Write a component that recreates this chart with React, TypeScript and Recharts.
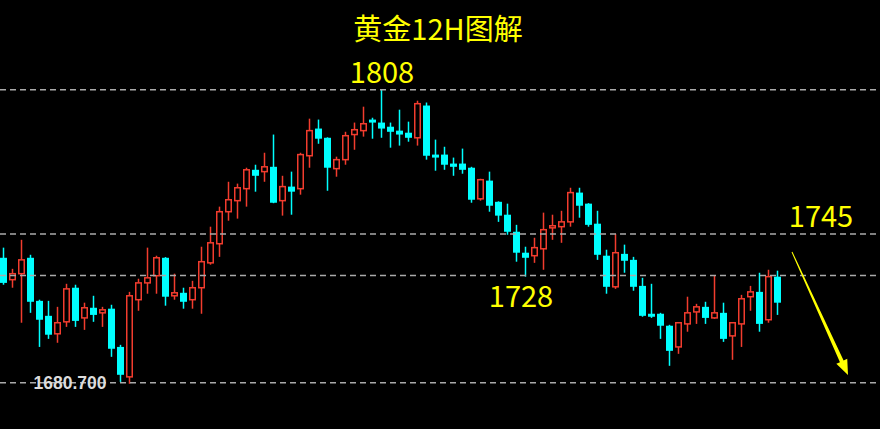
import { ComposedChart, Bar, XAxis, YAxis, ReferenceLine } from 'recharts'

// ── Data (12H gold candles) ─────────────────────────────────────────────────

const OPEN = [
  1735.0, 1725.5, 1728.1, 1735.0, 1716.3, 1709.8, 1702.0, 1707.2, 1722.0, 1708.9,
  1713.3, 1711.1, 1712.9, 1696.3, 1683.3, 1716.8, 1724.1, 1727.2, 1735.0, 1718.5,
  1719.8, 1716.8, 1722.0, 1732.8, 1741.1, 1755.0, 1759.8, 1765.0, 1773.2, 1772.4,
  1774.5, 1759.8, 1765.9, 1765.0, 1779.3, 1791.1, 1787.1, 1773.7, 1777.6, 1788.5,
  1790.2, 1795.0, 1793.7, 1791.9, 1790.2, 1789.3, 1787.1, 1801.1, 1779.8, 1779.8,
  1775.9, 1775.9, 1774.1, 1760.6, 1768.5, 1759.3, 1753.7, 1746.3, 1737.2, 1735.9,
  1738.9, 1748.0, 1748.5, 1750.6, 1763.3, 1758.5, 1749.8, 1735.9, 1722.4, 1736.7,
  1734.1, 1722.8, 1710.7, 1710.7, 1705.5, 1696.3, 1706.3, 1711.5, 1713.7, 1708.9,
  1711.1, 1701.1, 1706.3, 1718.1, 1720.2, 1708.1, 1726.8,
]

const HIGH = [
  1739.4, 1730.2, 1742.8, 1736.3, 1716.8, 1716.3, 1713.7, 1723.7, 1723.3, 1715.5,
  1718.5, 1713.7, 1714.6, 1697.2, 1720.2, 1725.9, 1739.4, 1735.9, 1735.3, 1728.1,
  1722.0, 1725.0, 1739.8, 1748.5, 1757.2, 1768.0, 1767.2, 1774.1, 1775.4, 1780.6,
  1788.5, 1770.6, 1772.4, 1780.6, 1795.4, 1795.0, 1787.3, 1778.9, 1789.7, 1793.7,
  1800.6, 1795.8, 1808.0, 1793.7, 1799.3, 1794.1, 1803.2, 1802.4, 1786.3, 1783.2,
  1778.5, 1782.4, 1774.5, 1769.3, 1772.4, 1759.5, 1758.5, 1749.3, 1739.8, 1743.7,
  1754.6, 1753.7, 1755.4, 1765.4, 1765.4, 1758.7, 1755.4, 1738.5, 1745.4, 1740.7,
  1735.4, 1726.3, 1723.7, 1711.1, 1705.9, 1706.8, 1718.1, 1715.0, 1715.9, 1727.2,
  1715.5, 1706.8, 1718.9, 1722.8, 1728.5, 1729.8, 1729.4,
]

const LOW = [
  1723.3, 1722.0, 1706.8, 1711.1, 1696.3, 1699.8, 1698.1, 1705.0, 1705.0, 1703.7,
  1707.2, 1705.0, 1692.0, 1681.1, 1680.3, 1712.0, 1719.4, 1719.4, 1714.2, 1716.8,
  1712.9, 1712.9, 1710.7, 1732.0, 1735.4, 1751.1, 1752.0, 1757.2, 1763.7, 1768.0,
  1758.7, 1753.3, 1753.7, 1762.4, 1774.1, 1784.5, 1764.1, 1770.2, 1775.4, 1781.9,
  1787.6, 1786.7, 1787.1, 1782.8, 1783.7, 1785.4, 1783.7, 1777.6, 1772.8, 1773.2,
  1770.6, 1771.5, 1758.9, 1759.8, 1755.0, 1750.6, 1745.0, 1733.3, 1726.8, 1732.8,
  1729.8, 1742.8, 1741.5, 1748.5, 1752.4, 1748.5, 1734.1, 1719.4, 1721.5, 1728.5,
  1720.7, 1709.4, 1708.9, 1699.8, 1688.1, 1693.3, 1702.9, 1706.3, 1706.3, 1708.5,
  1698.5, 1690.7, 1696.3, 1712.0, 1702.9, 1706.8, 1710.2,
]

const CLOSE = [
  1724.1, 1728.1, 1734.1, 1715.9, 1708.1, 1701.6, 1706.8, 1721.5, 1707.6, 1713.3,
  1710.2, 1712.4, 1695.5, 1684.2, 1718.5, 1724.1, 1726.3, 1735.0, 1718.1, 1719.8,
  1715.9, 1722.0, 1733.3, 1741.5, 1755.0, 1760.2, 1765.4, 1773.2, 1770.6, 1774.5,
  1758.9, 1765.9, 1763.7, 1779.8, 1790.2, 1786.7, 1774.1, 1777.6, 1788.0, 1790.6,
  1793.2, 1793.7, 1791.1, 1789.7, 1788.5, 1787.1, 1801.9, 1779.3, 1778.5, 1775.4,
  1774.5, 1773.2, 1760.2, 1768.9, 1757.6, 1753.3, 1746.3, 1737.2, 1735.0, 1739.4,
  1747.2, 1748.9, 1750.6, 1763.3, 1757.6, 1749.3, 1736.3, 1722.4, 1737.2, 1733.7,
  1722.4, 1709.8, 1709.4, 1705.5, 1694.6, 1706.8, 1711.1, 1713.7, 1708.9, 1711.1,
  1699.8, 1706.8, 1717.2, 1720.2, 1706.3, 1726.8, 1715.5,
]

// dashed price levels (drawn full width)
const LEVELS = [1808, 1745.3, 1727.3, 1680.7]

const TITLE = '黄金12H图解'
const LOW_LABEL = '1680.700'

const data = OPEN.map((open, i) => ({
  i,
  open,
  high: HIGH[i],
  low: LOW[i],
  close: CLOSE[i],
}))

// ── Helpers ──────────────────────────────────────────────────────────────────

const W = 880
const H = 429
const UP = '#f23c2e'
const DOWN = '#00ffff'
const YELLOW = '#ffff00'
const CJK = '"Noto Sans CJK SC", "Noto Sans", sans-serif'

function Candle(props: any) {
  const { x, y, width, height, payload } = props
  const { open, close, high, low } = payload
  const k = high === low ? 0 : height / (high - low)
  const cx = Math.round(x + width / 2) + 0.5
  const top = y + (high - Math.max(open, close)) * k
  const bottom = y + (high - Math.min(open, close)) * k
  const bodyH = Math.max(1.5, bottom - top)

  if (close >= open) {
    return (
      <g>
        <line x1={cx} x2={cx} y1={y} y2={top} stroke={UP} strokeWidth={1.5} />
        <line x1={cx} x2={cx} y1={top + bodyH} y2={y + height} stroke={UP} strokeWidth={1.5} />
        <rect x={cx - 2.75} y={top} width={5.5} height={bodyH} fill="#000" stroke={UP} strokeWidth={1.5} />
      </g>
    )
  }
  return (
    <g>
      <line x1={cx} x2={cx} y1={y} y2={y + height} stroke={DOWN} strokeWidth={1.5} />
      <rect x={cx - 3.5} y={top} width={7} height={bodyH} fill={DOWN} />
    </g>
  )
}

function DashedLevel(props: any) {
  return (
    <line x1={0} x2={W} y1={props.y1} y2={props.y1} stroke="#aaaaaa" strokeWidth={1.5} strokeDasharray="6 4" />
  )
}

// yellow tapered arrow pointing down-right
function Arrow({ x1, y1, x2, y2 }: { x1: number; y1: number; x2: number; y2: number }) {
  const len = Math.hypot(x2 - x1, y2 - y1)
  const ux = (x2 - x1) / len
  const uy = (y2 - y1) / len
  const nx = -uy
  const ny = ux
  const bx = x2 - ux * 15
  const by = y2 - uy * 15
  const pts = [
    [x1 + nx * 0.5, y1 + ny * 0.5],
    [bx + nx * 2, by + ny * 2],
    [bx + nx * 6, by + ny * 6],
    [x2, y2],
    [bx - nx * 6, by - ny * 6],
    [bx - nx * 2, by - ny * 2],
    [x1 - nx * 0.5, y1 - ny * 0.5],
  ]
  return <polygon points={pts.map((p) => p.join(',')).join(' ')} fill={YELLOW} />
}

// ── Component ────────────────────────────────────────────────────────────────

export default function App() {
  return (
    <div style={{ position: 'absolute', left: 0, top: 0, width: W, height: H, background: '#000' }}>
      <ComposedChart
        width={W}
        height={H}
        data={data}
        margin={{ top: 62, right: 98.5, bottom: 21.5, left: -1.5 }}
      >
        <XAxis dataKey="i" hide />
        <YAxis hide domain={[1670, 1820]} />
        <Bar dataKey={(d: any) => [d.low, d.high]} barSize={7} shape={Candle} isAnimationActive={false} />
        {LEVELS.map((v) => (
          <ReferenceLine key={v} y={v} shape={DashedLevel} />
        ))}
      </ComposedChart>

      <svg width={W} height={H} style={{ position: 'absolute', left: 0, top: 0, pointerEvents: 'none' }}>
        <text x={438} y={40} textAnchor="middle" fontFamily={CJK} fontSize={29} fill={YELLOW}>
          {TITLE}
        </text>
        <text x={382} y={83} textAnchor="middle" fontFamily={CJK} fontSize={29} fill={YELLOW}>
          {LEVELS[0]}
        </text>
        <text x={821} y={227} textAnchor="middle" fontFamily={CJK} fontSize={29} fill={YELLOW}>
          1745
        </text>
        <text x={521} y={307} textAnchor="middle" fontFamily={CJK} fontSize={29} fill={YELLOW}>
          1728
        </text>
        <text
          x={70}
          y={389}
          textAnchor="middle"
          fontFamily='"Liberation Sans", Arial, sans-serif'
          fontWeight="bold"
          fontSize={17.5}
          fill="#dcdcdc"
        >
          {LOW_LABEL}
        </text>
        <Arrow x1={792} y1={252} x2={848} y2={375} />
      </svg>
    </div>
  )
}
